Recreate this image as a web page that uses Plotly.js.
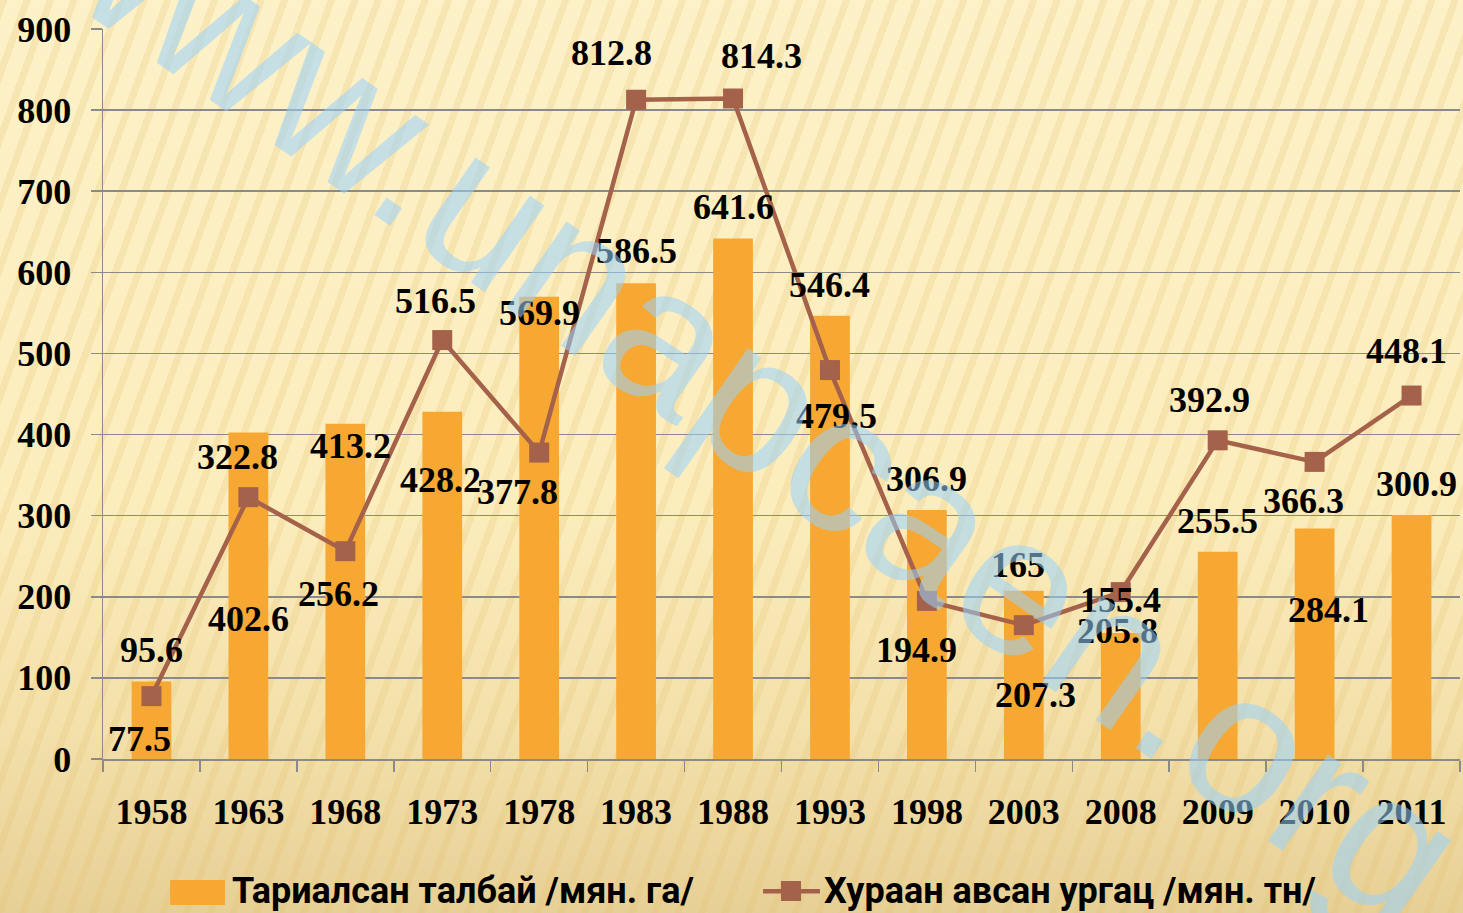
<!DOCTYPE html>
<html>
<head>
<meta charset="utf-8">
<script src="https://cdn.plot.ly/plotly-3.0.1.min.js"></script>
<style>
  html, body { margin:0; padding:0; width:1463px; height:913px; overflow:hidden; }
  body {
    background:
      repeating-linear-gradient(110deg, rgba(226,190,105,0.22) 0px, rgba(226,190,105,0.22) 7px, rgba(255,255,255,0) 7px, rgba(255,255,255,0) 22px),
      linear-gradient(180deg, #fdf1c8 0%, #fcedbd 55%, #f3e0aa 80%, #e7d096 100%);
  }
  #chart { width:1463px; height:913px; }
</style>
</head>
<body>
<div id="chart"></div>
<script>
// ---- data ----
const years = ["1958","1963","1968","1973","1978","1983","1988","1993","1998","2003","2008","2009","2010","2011"];
const sownArea = [95.6, 402.6, 413.2, 428.2, 569.9, 586.5, 641.6, 546.4, 306.9, 207.3, 155.4, 255.5, 284.1, 300.9];
const harvest  = [77.5, 322.8, 256.2, 516.5, 377.8, 812.8, 814.3, 479.5, 194.9, 165, 205.8, 392.9, 366.3, 448.1];
const seriesNames = ["Тариалсан талбай /мян. га/", "Хураан авсан ургац /мян. тн/"];
const yTicks = [0,100,200,300,400,500,600,700,800,900];
const watermarkText = "www.unapcaen.org";

// label offsets (pixels) as in the reference
const barLabelDx  = [0,0,5,-2,0,0,0,0,0,12,0,0,14,5];
const barLabelDy  = [31,-187,-22,-68,-16,32,32,31,31,-104,33,31,-81,31];
const lineLabelDx = [-12,-11,-7,-7,-22,-25,28,7,-10,-6,-3,-8,-11,-5];
const lineLabelDy = [-43,40,-43,39,-39,47,43,-46,-49,60,-39,40,-39,45];

const orange = "#f7a833";
const brown = "#a5624b";
const serif = "Liberation Serif, Times New Roman, serif";
const sans = "Roboto, Liberation Sans, Arial, sans-serif";

const traces = [
  { type:"bar", x:years, y:sownArea, name:seriesNames[0], marker:{color:orange}, showlegend:false, hoverinfo:"x+y" },
  { type:"scatter", mode:"lines+markers", x:years, y:harvest, name:seriesNames[1],
    line:{color:brown, width:4.5}, marker:{symbol:"square", size:20, color:brown}, showlegend:false }
];

const labelFont = {family:serif, size:36, color:"#000", weight:700};
const annotations = [];
sownArea.forEach((v,i)=>annotations.push({x:i, y:v, text:String(v), showarrow:false,
  xshift:barLabelDx[i], yshift:barLabelDy[i], font:labelFont, xanchor:"center", yanchor:"middle"}));
harvest.forEach((v,i)=>annotations.push({x:i, y:v, text:String(v), showarrow:false,
  xshift:lineLabelDx[i], yshift:lineLabelDy[i], font:labelFont, xanchor:"center", yanchor:"middle"}));

// manual legend text
const legFont = {family:sans, size:36, color:"#000", weight:700};
annotations.push({xref:"paper", yref:"paper", x:0.0936, y:-0.181, xanchor:"left", yanchor:"middle",
  text:seriesNames[0], showarrow:false, font:legFont});
annotations.push({xref:"paper", yref:"paper", x:0.5298, y:-0.181, xanchor:"left", yanchor:"middle",
  text:seriesNames[1], showarrow:false, font:legFont});

// watermark on top
annotations.push({xref:"paper", yref:"paper", x:0.475, y:0.503, xanchor:"center", yanchor:"middle",
  text:watermarkText, showarrow:false, textangle:35,
  font:{family:"Liberation Sans, Arial, sans-serif", size:199, color:"rgba(151,209,253,0.55)"}});

const shapes = [
  {type:"rect", xref:"paper", yref:"paper", x0:0.0494, x1:0.0899, y0:-0.1658, y1:-0.2, fillcolor:orange, line:{width:0}},
  {type:"line", xref:"paper", yref:"paper", x0:0.4864, x1:0.5284, y0:-0.181, y1:-0.181, line:{color:brown, width:4.5}},
  {type:"rect", xref:"paper", yref:"paper", x0:0.4996, x1:0.5144, y0:-0.1671, y1:-0.1945, fillcolor:brown, line:{width:0}}
];

const layout = {
  width:1463, height:913,
  margin:{l:103, r:3, t:29, b:154},
  paper_bgcolor:"rgba(0,0,0,0)", plot_bgcolor:"rgba(0,0,0,0)",
  bargap:0.59,
  showlegend:false,
  xaxis:{type:"category", range:[-0.5, years.length-0.5], autorange:false, showgrid:false, showline:true, linecolor:"#8a8a8a", linewidth:1.5,
    ticks:"outside", tickson:"boundaries", ticklen:11, tickcolor:"#8a8a8a", tickwidth:1.5, tickangle:0,
    tickfont:{family:serif, size:36, color:"#000", weight:700}, ticklabelstandoff:20},
  yaxis:{range:[0,900], autorange:false, tickvals:yTicks, showgrid:true, gridcolor:"#8a8a8a", gridwidth:1.5,
    showline:true, linecolor:"#8a8a8a", linewidth:1.5, zeroline:false,
    ticks:"outside", ticklen:11, tickcolor:"#8a8a8a", tickwidth:1.5,
    tickfont:{family:serif, size:36, color:"#000", weight:700}, ticklabelstandoff:12},
  annotations:annotations,
  shapes:shapes
};

Plotly.newPlot("chart", traces, layout, {displayModeBar:false, staticPlot:true});
</script>
</body>
</html>
